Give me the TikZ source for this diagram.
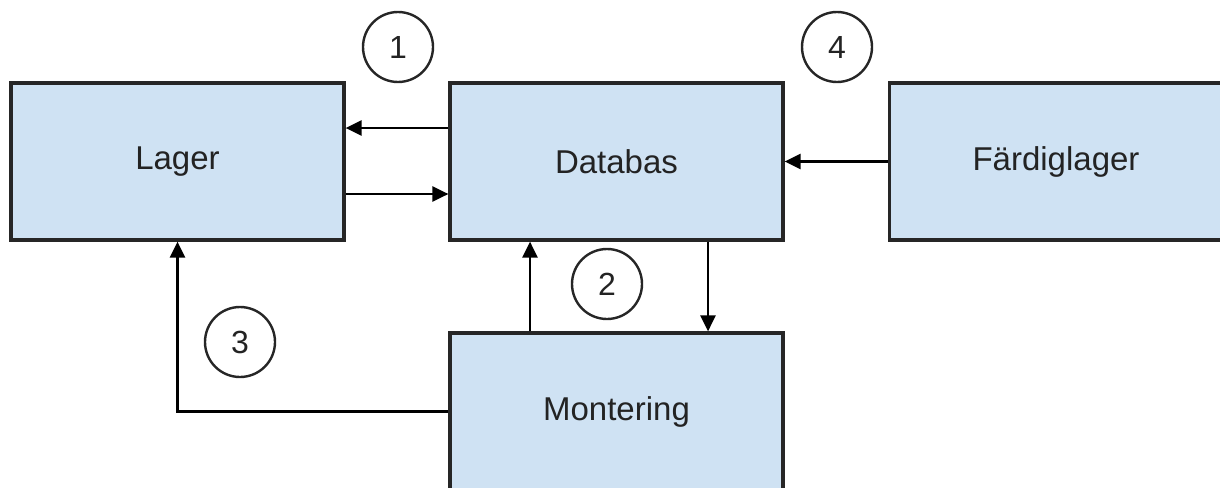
\documentclass[tikz,border=0pt]{standalone}
\usepackage{fontspec}
\setmainfont{Liberation Sans}
\usetikzlibrary{arrows.meta}
\usetikzlibrary{calc}
\definecolor{boxblue}{RGB}{207,226,243}
\definecolor{textgrey}{RGB}{35,35,35}
\tikzset{
  station/.style={draw=black!85, line width=1.6pt, fill=boxblue, minimum width=166.5pt,
    minimum height=78.5pt, inner sep=0pt, text=textgrey, font=\fontsize{16.5}{18}\selectfont},
  stepnr/.style={draw=black!85, line width=1.2pt, circle, minimum size=35pt, inner sep=0pt,
    text=textgrey, font=\fontsize{16}{18}\selectfont},
  flow/.style={line width=1.3pt, -{Triangle[length=8pt,width=7.5pt]}}
}

\begin{document}
\begin{tikzpicture}[x=0.5pt,y=-0.5pt]
  \useasboundingbox (0,0) rectangle (1220,487);
  \node [station] (lager) at (177.5,161.5) {Lager};
  \node [station] (db) at (616.5,161.5) {Databas};
  \node [station] (fl) at (1056,161.5) {Färdiglager};
  \node [station] (mont) at (616.5,411.5) {Montering};
  \node [stepnr] (s1) at (398,47) {1};
  \node [stepnr] (s2) at (607,284) {2};
  \node [stepnr] (s3) at (240,342) {3};
  \node [stepnr] (s4) at (837,47) {4};
  \draw [flow] ([yshift=16.75pt]db.west) -- ([yshift=16.75pt]lager.east);
  \draw [flow] ([yshift=-16.25pt]lager.east) -- ([yshift=-16.25pt]db.west);
  \draw [flow] (fl.west) -- (db.east);
  \draw [flow] ([xshift=45.75pt]db.south) -- ([xshift=45.75pt]mont.north);
  \draw [flow] ([xshift=-43.25pt]mont.north) -- ([xshift=-43.25pt]db.south);
  \draw [flow] (mont.west) -| (lager.south);
\end{tikzpicture}
\end{document}
